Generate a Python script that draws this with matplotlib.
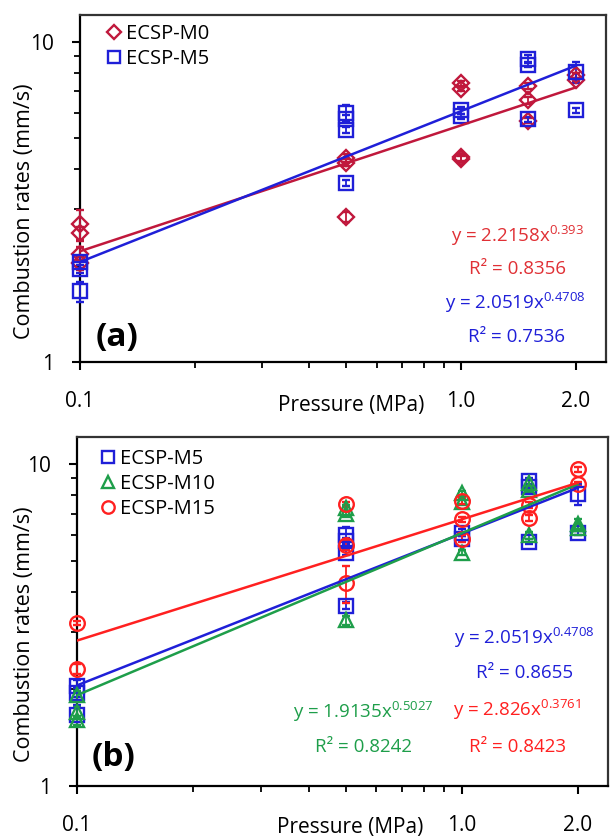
import numpy as np
import matplotlib
matplotlib.use('Agg')
import matplotlib.pyplot as plt
from matplotlib.ticker import FixedLocator, NullFormatter, LogLocator

plt.rcParams['font.family'] = ['Open Sans', 'DejaVu Sans']
plt.rcParams['mathtext.default'] = 'regular'

# pressures (MPa)
pressure = [0.1, 0.5, 1.0, 1.5, 2.0]

# replicate combustion rates (mm/s) at each pressure
m0_rates = [[2.69, 2.52, 2.18, 2.03], [4.34, 4.19, 2.84], [7.40, 7.10, 4.35, 4.30],
            [7.25, 6.55, 5.66], [7.85, 7.60]]
m0_err = [[0.30, 0.12, 0.10, 0.10], [0.12, 0.10, 0.10], [0.12, 0.10, 0.10, 0.10],
          [0.15, 0.15, 0.10], [0.15, 0.10]]

m5_rates = [[2.05, 1.95, 1.66], [6.00, 5.75, 5.30, 3.63], [6.10, 5.85],
            [8.85, 8.45, 5.72], [8.05, 6.10]]
m5_err = [[0.08, 0.06, 0.12], [0.35, 0.15, 0.10, 0.08], [0.15, 0.10],
          [0.20, 0.15, 0.10], [0.60, 0.10]]

m10_rates = [[1.91, 1.70, 1.60], [7.30, 7.00, 3.27], [8.10, 7.60, 5.30],
             [8.70, 8.30, 6.00], [6.50, 6.30]]
m10_err = [[0.06, 0.06, 0.05], [0.15, 0.15, 0.10], [0.15, 0.15, 0.10],
           [0.20, 0.15, 0.15], [0.25, 0.10]]

m15_rates = [[3.20, 2.31], [7.48, 5.60, 4.25], [7.65, 6.72, 5.85],
             [7.45, 6.80], [9.60, 8.65]]
m15_err = [[0.05, 0.08], [0.15, 0.20, 0.55], [0.15, 0.12, 0.15],
           [0.15, 0.15], [0.15, 0.15]]

# power-law fits y = c * (P/0.1)^b, as printed on the chart
m0_fit = (2.2158, 0.393)
m5_fit = (2.0519, 0.4708)
m10_fit = (1.9135, 0.5027)
m15_fit = (2.826, 0.3761)

c_m0 = '#C0183C'
c_m5 = '#1F1FD8'
c_m10 = '#1E9E4A'
c_m15 = '#FF2020'


def flat(pp, vals):
    xs, ys = [], []
    for p, v in zip(pp, vals):
        xs += [p] * len(v)
        ys += v
    return xs, ys


def draw_series(ax, rates, err, marker, color, ms):
    x, y = flat(pressure, rates)
    _, e = flat(pressure, err)
    cont = ax.errorbar(x, y, yerr=e, fmt=marker, mfc='none', mec=color, ms=ms, mew=1.7,
                       ecolor=color, elinewidth=1.3, capsize=3, capthick=1.3,
                       ls='none', clip_on=False, zorder=3)
    return cont.lines[0]


def draw_fit(ax, fit, color):
    c, b = fit
    p = np.array([pressure[0], pressure[-1]])
    ax.plot(p, c * (p / 0.1) ** b, color=color, lw=1.8, zorder=4)


def style_axis(ax):
    ax.set_xscale('log')
    ax.set_yscale('log')
    ax.set_xlim(0.1, 2.4)
    ax.set_ylim(1, 12.1)
    ax.set_xticks([0.1, 1.0, 2.0], ['0.1', '1.0', '2.0'])
    ax.xaxis.set_minor_locator(FixedLocator([0.2, 0.3, 0.4, 0.5, 0.6, 0.7, 0.8, 0.9]))
    ax.xaxis.set_minor_formatter(NullFormatter())
    ax.set_yticks([1, 10], ['1', '10'])
    ax.yaxis.set_minor_locator(LogLocator(subs=np.arange(2, 10)))
    ax.yaxis.set_minor_formatter(NullFormatter())
    ax.tick_params(which='major', length=6, width=1.5, labelsize=15, color='black')
    ax.tick_params(axis='x', which='major', pad=15)
    ax.tick_params(axis='y', which='major', pad=13)
    ax.tick_params(which='minor', length=4, width=1.3)
    for s in ['left', 'bottom']:
        ax.spines[s].set_linewidth(1.6)
    for s in ['top', 'right']:
        ax.spines[s].set_linewidth(1.6)
        ax.spines[s].set_color('#333333')
    ax.set_xlabel('Pressure (MPa)', fontsize=15, va='center')
    ax.set_ylabel('Combustion rates (mm/s)', fontsize=15.5, va='center', ha='center')


def add_legend(ax, handles, labels, anchor):
    ax.legend(handles, labels, loc='upper left', bbox_to_anchor=anchor,
              frameon=False, fontsize=14.5, handlelength=1.0, handletextpad=0.1,
              borderpad=0, borderaxespad=0, labelspacing=0.25, markerscale=0.85)


fig = plt.figure(figsize=(6.11, 8.38), dpi=100)

# ---- panel (a)
ax = fig.add_axes([80 / 611, 1 - 362 / 838, 526 / 611, 347 / 838])
style_axis(ax)
h0 = draw_series(ax, m0_rates, m0_err, 'D', c_m0, 8)
h5 = draw_series(ax, m5_rates, m5_err, 's', c_m5, 9.5)
draw_fit(ax, m0_fit, c_m0)
draw_fit(ax, m5_fit, c_m5)
ax.xaxis.set_label_coords(0.515, -0.124)
ax.yaxis.set_label_coords(-0.105, 0.435)
add_legend(ax, [h0, h5], ['ECSP-M0', 'ECSP-M5'], (0.045, 0.975))
ax.text(0.831, 0.363, 'y = 2.2158x$^{0.393}$', color='#E03035', fontsize=13.5,
        ha='center', va='center', transform=ax.transAxes)
ax.text(0.831, 0.268, 'R² = 0.8356', color='#E03035', fontsize=13.5,
        ha='center', va='center', transform=ax.transAxes)
ax.text(0.827, 0.170, 'y = 2.0519x$^{0.4708}$', color=c_m5, fontsize=13.5,
        ha='center', va='center', transform=ax.transAxes)
ax.text(0.829, 0.072, 'R² = 0.7536', color=c_m5, fontsize=13.5,
        ha='center', va='center', transform=ax.transAxes)
ax.text(0.07, 0.072, '(a)', fontsize=24, fontweight='bold',
        ha='center', va='center', transform=ax.transAxes)

# ---- panel (b)
ax = fig.add_axes([77 / 611, 1 - 786 / 838, 531 / 611, 349 / 838])
style_axis(ax)
h5 = draw_series(ax, m5_rates, m5_err, 's', c_m5, 9.5)
h10 = draw_series(ax, m10_rates, m10_err, '^', c_m10, 10.5)
h15 = draw_series(ax, m15_rates, m15_err, 'o', c_m15, 10.5)
draw_fit(ax, m5_fit, c_m5)
draw_fit(ax, m10_fit, c_m10)
draw_fit(ax, m15_fit, c_m15)
ax.xaxis.set_label_coords(0.515, -0.118)
ax.yaxis.set_label_coords(-0.098, 0.436)
add_legend(ax, [h5, h10, h15], ['ECSP-M5', 'ECSP-M10', 'ECSP-M15'], (0.04, 0.965))
ax.text(0.842, 0.424, 'y = 2.0519x$^{0.4708}$', color=c_m5, fontsize=13.5,
        ha='center', va='center', transform=ax.transAxes)
ax.text(0.842, 0.324, 'R² = 0.8655', color=c_m5, fontsize=13.5,
        ha='center', va='center', transform=ax.transAxes)
ax.text(0.540, 0.212, 'y = 1.9135x$^{0.5027}$', color=c_m10, fontsize=13.5,
        ha='center', va='center', transform=ax.transAxes)
ax.text(0.540, 0.112, 'R² = 0.8242', color=c_m10, fontsize=13.5,
        ha='center', va='center', transform=ax.transAxes)
ax.text(0.829, 0.218, 'y = 2.826x$^{0.3761}$', color=c_m15, fontsize=13.5,
        ha='center', va='center', transform=ax.transAxes)
ax.text(0.829, 0.112, 'R² = 0.8423', color=c_m15, fontsize=13.5,
        ha='center', va='center', transform=ax.transAxes)
ax.text(0.068, 0.083, '(b)', fontsize=24, fontweight='bold',
        ha='center', va='center', transform=ax.transAxes)

fig.savefig('out.png', dpi=100)
